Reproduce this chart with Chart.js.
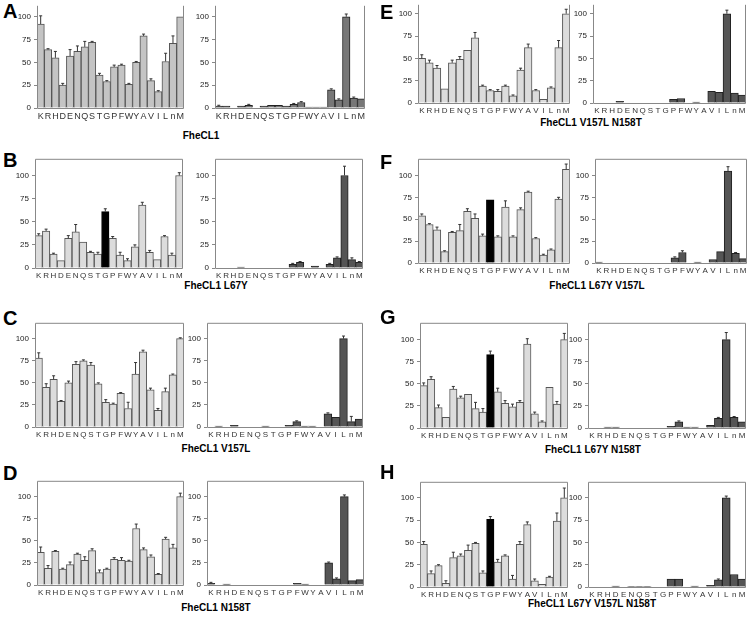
<!DOCTYPE html>
<html>
<head>
<meta charset="utf-8">
<script src="https://cdn.jsdelivr.net/npm/chart.js@4/dist/chart.umd.min.js"></script>
<style>
  body { margin: 0; background: #fff; }
  #fig { position: relative; width: 754px; height: 619px; overflow: hidden; font-family: "Liberation Sans", Arial, sans-serif; }
  .letter { position: absolute; font-weight: bold; font-size: 20px; line-height: 20px; }
  .title { position: absolute; font-weight: bold; font-size: 10px; line-height: 10px; transform: translateX(-50%); white-space: nowrap; }
  canvas { position: absolute; }
</style>
</head>
<body>
<div id="fig"></div>
<script>
// residues on the x axis
const categories = ['K','R','H','D','E','N','Q','S','T','G','P','F','W','Y','A','V','I','L','n','M']
const yTickValues = [0, 25, 50, 75, 100]

const panelLetters = ['A','B','C','D','E','F','G','H']
const panelTitles = ['FheCL1', 'FheCL1 L67Y', 'FheCL1 V157L', 'FheCL1 N158T',
  'FheCL1 V157L N158T', 'FheCL1 L67Y V157L', 'FheCL1 L67Y N158T', 'FheCL1 L67Y V157L N158T']

// P1 (left) and P1' (right) values + error
const aLeft = [92,64,55,25,57,62,67,72,36,29,45,47,26,50,79,30,18,51,71,100]
const aLeftErr = [9,1,7,2,7,6,6,1,2,1,2,1,1,1,2,2,1,9,8,0]
const aRight = [2,2,0,2,3,0,2,3,3,2,4,6,1,1,1,20,9,100,11,10]
const aRightErr = [1,0,0,0,1,0,0,0,0,0,1,1,0,0,0,1,1,3,1,0]

const bLeft = [35,40,15,8,32,39,28,17,15,61,32,14,8,23,68,17,9,34,14,100]
const bLeftErr = [2,2,1,0,3,8,0,1,2,3,2,3,2,2,3,2,0,1,2,3]
const bRight = [0,0,0,1,0,0,0,0,0,0,4,6,0,2,0,4,11,100,9,6]
const bRightErr = [0,0,0,0,0,0,0,0,0,0,1,1,0,0,0,1,1,10,2,1]

const cLeft = [78,45,54,29,50,71,75,70,49,28,26,38,21,60,85,42,19,40,59,100]
const cLeftErr = [6,4,4,1,2,3,1,3,1,3,1,1,7,13,2,2,2,4,1,1]
const cRight = [0,1,0,2,0,0,0,1,0,0,2,6,1,1,0,15,11,100,6,9]
const cRightErr = [0,0,0,0,0,0,0,0,0,0,0,1,0,0,0,1,0,3,6,0]

const dLeft = [37,19,38,18,23,35,28,39,14,18,29,28,27,64,40,32,12,52,42,100]
const dLeftErr = [6,3,1,1,3,1,4,2,3,1,2,3,1,5,2,2,1,2,4,4]
const dRight = [2,0,1,0,0,0,0,0,0,0,0,2,1,0,0,25,7,100,5,6]
const dRightErr = [1,0,0,0,0,0,0,0,0,0,0,0,0,0,0,1,1,2,0,0]

const eLeft = [50,45,39,16,45,49,59,73,19,14,13,19,8,37,62,14,4,17,62,100]
const eLeftErr = [4,3,3,0,3,3,0,6,1,1,2,1,1,2,4,1,0,1,8,5]
const eRight = [0,0,0,2,0,0,0,0,0,0,4,5,0,1,0,13,12,100,11,9]
const eRightErr = [0,0,0,0,0,0,0,0,0,0,0,0,0,0,0,0,0,4,0,0]

const fLeft = [54,44,38,13,35,37,59,51,31,72,30,64,30,61,81,28,9,15,73,107]
const fLeftErr = [2,1,3,1,1,7,3,5,2,0,1,7,1,2,1,1,1,1,2,6]
const fRight = [1,0,0,0,0,0,0,0,0,0,6,12,0,1,0,4,13,105,11,5]
const fRightErr = [0,0,0,0,0,0,0,0,0,0,1,2,0,0,0,0,0,5,1,0]

const gLeft = [48,55,23,12,44,34,38,22,18,83,41,28,24,29,95,16,7,46,27,100]
const gLeftErr = [3,3,3,0,3,2,0,7,4,4,4,3,3,2,6,2,1,0,3,7]
const gRight = [0,0,1,1,0,0,0,0,0,0,2,7,1,1,0,3,11,100,12,7]
const gRightErr = [0,0,0,0,0,0,0,0,0,0,0,1,0,0,0,0,1,8,1,0]

const hLeft = [48,15,24,4,33,35,41,49,16,76,28,35,9,48,70,7,3,11,74,100]
const hLeftErr = [3,3,1,3,6,2,6,1,2,3,3,1,4,3,3,2,0,1,9,11]
const hRight = [0,0,0,1,0,0.5,0.5,0.5,0,0,9,9,0,1,0,2,8,100,14,9]
const hRightErr = [0,0,0,0,0,0,0,0,0,0,0,0,0,0,0,0,1,2,0,0]

const leftSeries = [aLeft, bLeft, cLeft, dLeft, eLeft, fLeft, gLeft, hLeft]
const leftErrors = [aLeftErr, bLeftErr, cLeftErr, dLeftErr, eLeftErr, fLeftErr, gLeftErr, hLeftErr]
const rightSeries = [aRight, bRight, cRight, dRight, eRight, fRight, gRight, hRight]
const rightErrors = [aRightErr, bRightErr, cRightErr, dRightErr, eRightErr, fRightErr, gRightErr, hRightErr]
const highlighted = [-1, 9, -1, -1, -1, 9, 9, 9]   // G bar drawn black

// page layout (plot areas in px)
const layout = [
  { lx: 3,   ly: 1,   tx: 201, ty: 131, L: [37, 184],  R: [215, 365], top: 5,   bottom: 108, yMax: 112, open: true },
  { lx: 3,   ly: 150, tx: 216, ty: 281, L: [35, 183],  R: [215, 363], top: 158, bottom: 268, yMax: 118 },
  { lx: 3,   ly: 308, tx: 216, ty: 444, L: [35, 184],  R: [207, 363], top: 322, bottom: 427, yMax: 118 },
  { lx: 3,   ly: 463, tx: 216, ty: 603, L: [37, 184],  R: [207, 364], top: 480, bottom: 585, yMax: 118 },
  { lx: 380, ly: 2,   tx: 591, ty: 118, L: [418, 570], R: [593, 746], top: 4,   bottom: 103, yMax: 110, open: true },
  { lx: 380, ly: 152, tx: 597, ty: 281, L: [418, 570], R: [595, 747], top: 158, bottom: 263, yMax: 119 },
  { lx: 380, ly: 307, tx: 593, ty: 445, L: [420, 568], R: [588, 746], top: 322, bottom: 428, yMax: 119 },
  { lx: 380, ly: 462, tx: 592, ty: 599, L: [420, 568], R: [588, 746], top: 481, bottom: 587, yMax: 118 }
]

const AX_W = 30, X_H = 16, PAD_T = 7, PAD_R = 7

const errorBars = {
  id: 'errorBars',
  afterDatasetsDraw(chart) {
    const ctx = chart.ctx
    const ys = chart.scales.y
    const ds = chart.data.datasets[0]
    const meta = chart.getDatasetMeta(0)
    ctx.save()
    ctx.strokeStyle = '#333'
    ctx.lineWidth = 1
    meta.data.forEach((bar, i) => {
      const e = ds.errors[i]
      if (!e) return
      const yTop = ys.getPixelForValue(ds.data[i] + e)
      ctx.beginPath()
      ctx.moveTo(bar.x, bar.y)
      ctx.lineTo(bar.x, yTop)
      ctx.moveTo(bar.x - 1.5, yTop)
      ctx.lineTo(bar.x + 1.5, yTop)
      ctx.stroke()
    })
    ctx.restore()
  }
}

const frame = {
  id: 'frame',
  afterDraw(chart, args, opts) {
    const a = chart.chartArea
    const ctx = chart.ctx
    ctx.save()
    ctx.strokeStyle = '#888'
    ctx.lineWidth = 1
    ctx.beginPath()
    if (opts.open) {
      ctx.moveTo(a.left + 0.5, a.top)
      ctx.lineTo(a.left + 0.5, a.bottom + 0.5)
      ctx.lineTo(a.right - 0.5, a.bottom + 0.5)
      ctx.lineTo(a.right - 0.5, a.top)
    } else {
      ctx.rect(a.left + 0.5, a.top + 0.5, a.right - a.left - 1, a.bottom - a.top)
    }
    ctx.stroke()
    ctx.restore()
  }
}

const fig = document.getElementById('fig')

function makeChart(x0, x1, box, values, errors, fill, edge, hi, labelSize) {
  const cv = document.createElement('canvas')
  const w = (x1 - x0) + AX_W + PAD_R
  const h = (box.bottom - box.top) + PAD_T + X_H
  cv.width = w
  cv.height = h
  cv.style.left = (x0 - AX_W) + 'px'
  cv.style.top = (box.top - PAD_T) + 'px'
  cv.style.width = w + 'px'
  cv.style.height = h + 'px'
  fig.appendChild(cv)

  new Chart(cv.getContext('2d'), {
    type: 'bar',
    data: {
      labels: categories,
      datasets: [{
        data: values,
        errors: errors,
        backgroundColor: values.map((v, i) => i === hi ? '#000' : fill),
        borderColor: values.map((v, i) => i === hi ? '#000' : edge),
        borderWidth: 1,
        barPercentage: 1,
        categoryPercentage: 1
      }]
    },
    options: {
      responsive: false,
      animation: false,
      events: [],
      layout: { padding: { top: PAD_T, right: PAD_R, left: 0, bottom: 0 } },
      plugins: { legend: { display: false }, tooltip: { enabled: false }, frame: { open: !!box.open } },
      scales: {
        x: {
          grid: { display: false, drawTicks: false },
          border: { display: false },
          ticks: { autoSkip: false, maxRotation: 0, minRotation: 0, padding: 3, color: '#333',
            font: { family: 'Liberation Sans', size: labelSize } },
          afterFit(s) { s.height = X_H }
        },
        y: {
          min: 0,
          max: box.yMax,
          grid: { drawOnChartArea: false, tickLength: 3, color: '#888' },
          border: { display: false },
          ticks: { stepSize: 25, padding: 3, color: '#222', font: { family: 'Liberation Sans', size: 8 } },
          afterBuildTicks(s) { s.ticks = yTickValues.map(v => ({ value: v })) },
          afterFit(s) { s.width = AX_W }
        }
      }
    },
    plugins: [errorBars, frame]
  })
}

layout.forEach((box, p) => {
  const letter = document.createElement('div')
  letter.className = 'letter'
  letter.style.left = box.lx + 'px'
  letter.style.top = box.ly + 'px'
  letter.textContent = panelLetters[p]
  fig.appendChild(letter)

  const title = document.createElement('div')
  title.className = 'title'
  title.style.left = box.tx + 'px'
  title.style.top = box.ty + 'px'
  title.textContent = panelTitles[p]
  fig.appendChild(title)

  const lightFill = p === 0 ? '#c4c4c4' : '#dcdcdc'
  const darkFill = p === 0 ? '#777777' : '#555555'
  const lab = p === 0 ? 9 : 8
  makeChart(box.L[0], box.L[1], box, leftSeries[p], leftErrors[p], lightFill, '#555', highlighted[p], lab)
  makeChart(box.R[0], box.R[1], box, rightSeries[p], rightErrors[p], darkFill, '#222', -1, lab)
})
</script>
</body>
</html>
